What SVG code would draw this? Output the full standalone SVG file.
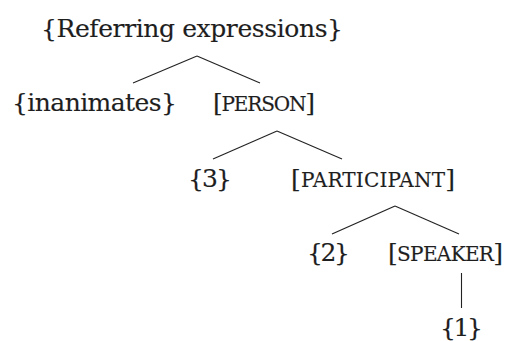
<svg xmlns="http://www.w3.org/2000/svg" width="505" height="341" viewBox="0 0 505 341">
<style>
text{font-family:"DejaVu Serif","Liberation Serif",serif;font-size:25px;fill:#1e1e1e;stroke:#1e1e1e;stroke-width:0.15}
.sc{font-size:20px}
.edge{stroke:#222;stroke-width:1.1;fill:none}
</style>
<rect width="505" height="341" fill="#fff"/>
<g id="connectors">
<line class="edge" x1="197" y1="56" x2="133" y2="83"/>
<line class="edge" x1="197" y1="56" x2="260" y2="83"/>
<line class="edge" x1="277" y1="131" x2="213" y2="159"/>
<line class="edge" x1="277" y1="131" x2="342" y2="159"/>
<line class="edge" x1="395" y1="206" x2="332" y2="234"/>
<line class="edge" x1="395" y1="206" x2="459" y2="234"/>
<line class="edge" x1="461.5" y1="273" x2="461.5" y2="308"/>
</g>
<g id="referring"><text x="41" y="37" textLength="302">{Referring expressions}</text></g>
<g id="inanimates"><text x="12" y="111" textLength="165">{inanimates}</text></g>
<g id="person"><text x="213" y="111" textLength="102">[<tspan class="sc">PERSON</tspan>]</text></g>
<g id="n3"><text x="188" y="187" textLength="44">{3}</text></g>
<g id="participant"><text x="291" y="187" textLength="164">[<tspan class="sc">PARTICIPANT</tspan>]</text></g>
<g id="n2"><text x="307" y="261" textLength="43">{2}</text></g>
<g id="speaker"><text x="388" y="261" textLength="115">[<tspan class="sc">SPEAKER</tspan>]</text></g>
<g id="n1"><text x="440" y="336" textLength="43">{1}</text></g>
</svg>
